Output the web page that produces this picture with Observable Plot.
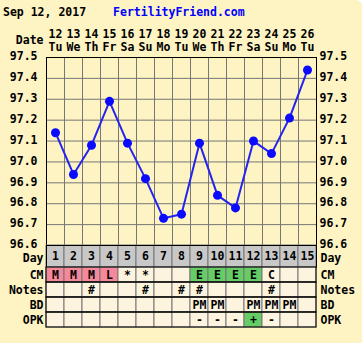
<!DOCTYPE html>
<html><head><meta charset="utf-8">
<script src="https://cdn.jsdelivr.net/npm/d3@7"></script>
<script src="https://cdn.jsdelivr.net/npm/@observablehq/plot@0.6"></script>
<style>
html,body{margin:0;padding:0;background:#fff;}
#chart{width:362px;height:343px;background:#FDF3C3;border-radius:0 6px 0 0;overflow:hidden;font-family:"DejaVu Sans Mono",monospace;font-weight:bold;font-size:11.5px;}
#title{height:22px;line-height:24px;padding-left:3px;white-space:pre;color:#000;}
#title .site{color:#0000ff;margin-left:27px;}
#chart svg{display:block;overflow:visible;}
</style></head>
<body><div id="chart"><div id="title"><span id="date"></span><span class="site" id="site"></span></div></div>
<script>
// ---- data ----
const chartTitle = "Sep 12, 2017";
const siteName = "FertilityFriend.com";
const days = [1, 2, 3, 4, 5, 6, 7, 8, 9, 10, 11, 12, 13, 14, 15];
const dateNums = ["12","13","14","15","16","17","18","19","20","21","22","23","24","25","26"];
const weekdays = ["Tu","We","Th","Fr","Sa","Su","Mo","Tu","We","Th","Fr","Sa","Su","Mo","Tu"];
const temps = [97.14, 96.94, 97.08, 97.29, 97.09, 96.92, 96.73, 96.75, 97.09, 96.84, 96.78, 97.10, 97.04, 97.21, 97.44];
const tempTicks = [96.6, 96.7, 96.8, 96.9, 97.0, 97.1, 97.2, 97.3, 97.4, 97.5];
const dayLabel = "Day";
const rowNames = ["CM", "Notes", "BD", "OPK"];
const cm    = ["M","M","M","L","*","*","","","E","E","E","E","C","",""];
const notes = ["","","#","","","#","","#","#","","","","#","",""];
const bd    = ["","","","","","","","","PM","PM","","PM","PM","PM",""];
const opk   = ["","","","","","","","","-","-","-","+","-","",""];

// ---- styles ----
const PINK = "#F5889A", GREEN = "#66CC66", CREAM = "#FDF4E0", GRAY = "#C8C8C8", GRID = "#777";
const svgStyle = {background: "transparent", overflow: "visible", fontFamily: "DejaVu Sans Mono, monospace", fontWeight: "bold", fontSize: "11.5px", color: "#000"};

document.getElementById("date").textContent = chartTitle;
document.getElementById("site").textContent = siteName;
const chart = document.getElementById("chart");

// ---- temperature chart ----
const tempChart = Plot.plot({
  width: 362, height: 223,
  marginTop: 35, marginBottom: 0, marginLeft: 46, marginRight: 46,
  style: svgStyle,
  x: {domain: [days[0] - 0.5, days[days.length - 1] + 0.5], axis: null},
  y: {domain: [tempTicks[0], tempTicks[tempTicks.length - 1]], axis: null},
  marks: [
    Plot.ruleX(days.slice(0, -1), {x: d => d + 0.5, stroke: GRID}),
    Plot.ruleY(tempTicks.slice(1, -1), {stroke: GRID}),
    Plot.frame({stroke: "#000"}),
    Plot.axisY(tempTicks, {anchor: "left", label: null, tickSize: 0, tickPadding: 9, tickFormat: d => d.toFixed(1), fontWeight: "bold", dy: -1}),
    Plot.axisY(tempTicks, {anchor: "right", label: null, tickSize: 0, tickPadding: 3, tickFormat: d => d.toFixed(1), fontWeight: "bold", dy: -1}),
    Plot.line(days, {x: d => d, y: (d, i) => temps[i], stroke: "#2424F0", strokeWidth: 2}),
    Plot.dot(days, {x: d => d, y: (d, i) => temps[i], r: 4.5, fill: "#0A0AFF"}),
    Plot.text(days, {x: d => d, text: (d, i) => dateNums[i], frameAnchor: "top", lineAnchor: "middle", dy: -23}),
    Plot.text(days, {x: d => d, text: (d, i) => weekdays[i], frameAnchor: "top", lineAnchor: "middle", dy: -10}),
    Plot.text(["Date"], {frameAnchor: "top-left", textAnchor: "end", lineAnchor: "middle", dx: -3, dy: -17})
  ]
});
chart.appendChild(tempChart);

// ---- day row ----
const dayRow = Plot.plot({
  width: 362, height: 22,
  marginTop: 0, marginBottom: 0, marginLeft: 46, marginRight: 46,
  style: svgStyle,
  x: {type: "band", domain: days, padding: 0, axis: null},
  y: {type: "band", domain: [dayLabel], padding: 0, axis: null},
  marks: [
    Plot.cell(days, {x: d => d, y: () => dayLabel, fill: GRAY, stroke: GRID, inset: 0}),
    Plot.frame({stroke: "#000"}),
    Plot.text(days, {x: d => d, y: () => dayLabel, text: d => String(d)}),
    Plot.axisY([dayLabel], {anchor: "left", label: null, tickSize: 0, tickPadding: 3, fontWeight: "bold", dy: 2}),
    Plot.axisY([dayLabel], {anchor: "right", label: null, tickSize: 0, tickPadding: 4, fontWeight: "bold", dy: 2})
  ]
});
chart.appendChild(dayRow);

// ---- table ----
const rowValues = {CM: cm, Notes: notes, BD: bd, OPK: opk};
const cells = rowNames.flatMap(r => days.map((d, i) => ({day: d, row: r, value: rowValues[r][i]})));
const cellFill = c => {
  if (c.row === "CM" && (c.value === "M" || c.value === "L")) return PINK;
  if (c.row === "CM" && c.value === "E") return GREEN;
  if (c.row === "OPK" && c.value === "+") return GREEN;
  return CREAM;
};
const table = Plot.plot({
  width: 362, height: 76,
  marginTop: 0, marginBottom: 16, marginLeft: 46, marginRight: 46,
  style: svgStyle,
  x: {type: "band", domain: days, padding: 0, axis: null},
  y: {type: "band", domain: rowNames, padding: 0, axis: null},
  marks: [
    Plot.cell(cells, {x: "day", y: "row", fill: cellFill, stroke: GRID, inset: 0}),
    Plot.cell(rowNames, {y: d => d, fill: "none", stroke: "#000", inset: 0}),
    Plot.text(cells, {x: "day", y: "row", text: "value"}),
    Plot.axisY(rowNames, {anchor: "left", label: null, tickSize: 0, tickPadding: 3, fontWeight: "bold"}),
    Plot.axisY(rowNames, {anchor: "right", label: null, tickSize: 0, tickPadding: 4, fontWeight: "bold"})
  ]
});
chart.appendChild(table);
</script>
</body></html>
